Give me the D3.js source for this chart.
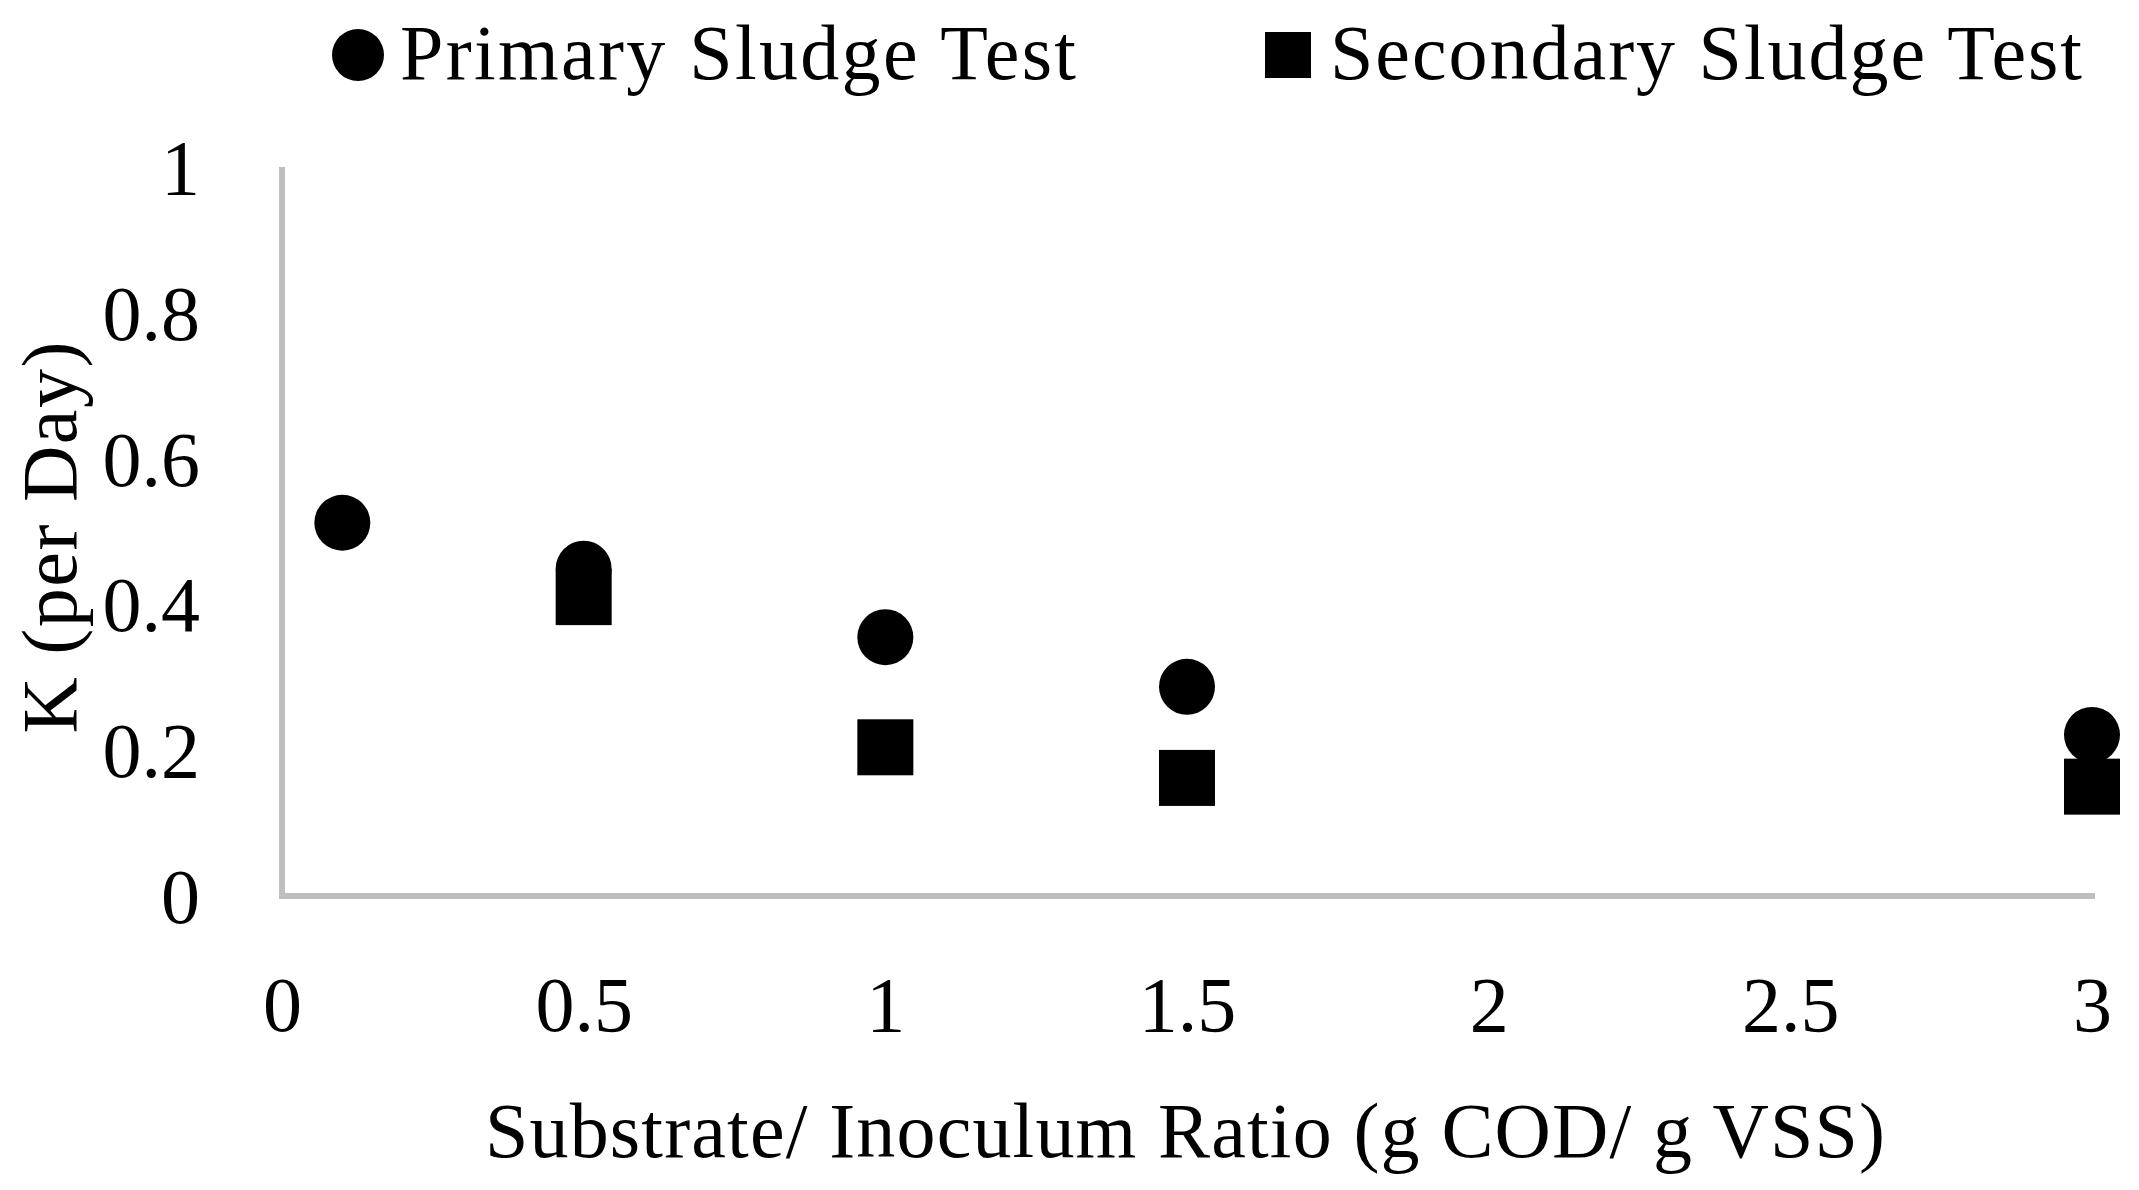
<!DOCTYPE html>
<html>
<head>
<meta charset="utf-8">
<script src="https://cdn.jsdelivr.net/npm/d3@7"></script>
<style>
  body { margin: 0; background: #fff; }
  text { font-family: "Book Antiqua", "Palatino Linotype", Palatino, "Liberation Serif", serif; fill: #000; }
</style>
</head>
<body>
<div id="chart"></div>
<script>
//series values
const primaryX = [0.1, 0.5, 1, 1.5, 3];
const primaryK = [0.512, 0.449, 0.355, 0.287, 0.221];
const secondaryX = [0.5, 1, 1.5, 3];
const secondaryK = [0.41, 0.204, 0.162, 0.15];

//tick labels
const xTicks = [0, 0.5, 1, 1.5, 2, 2.5, 3];
const yTicks = [0, 0.2, 0.4, 0.6, 0.8, 1];

const seriesNames = ['Primary Sludge Test', 'Secondary Sludge Test'];

const W = 2139, H = 1190;
const margin = { top: 167, right: 47, bottom: 294, left: 282 };
const fontSize = 78;

const svg = d3.select('#chart').append('svg')
    .attr('width', W)
    .attr('height', H);

const x = d3.scaleLinear().domain([0, 3]).range([margin.left, W - margin.right]);
const y = d3.scaleLinear().domain([0, 1]).range([H - margin.bottom, margin.top]);

//axis lines (light grey, no tick marks)
const axisColor = '#bfbfbf';
svg.append('line')
    .attr('x1', x(0)).attr('x2', x(0))
    .attr('y1', y(1)).attr('y2', y(0))
    .attr('stroke', axisColor).attr('stroke-width', 6);
svg.append('line')
    .attr('x1', x(0) - 3).attr('x2', x(3) + 3)
    .attr('y1', y(0)).attr('y2', y(0))
    .attr('stroke', axisColor).attr('stroke-width', 6);

//y tick labels
const yAxis = d3.axisLeft(y).tickValues(yTicks).tickSize(0).tickPadding(0)
    .tickFormat(d => d3.format('')(+d.toFixed(1)));
const yg = svg.append('g').attr('transform', `translate(${x(0) - 82},0)`).call(yAxis);
yg.select('.domain').remove();
yg.selectAll('text').attr('font-size', fontSize).attr('dy', '0.34em')
    .style('font-family', null);

//x tick labels
const xAxis = d3.axisBottom(x).tickValues(xTicks).tickSize(0).tickPadding(0)
    .tickFormat(d => String(d));
const xg = svg.append('g').attr('transform', `translate(0,${y(0) + 80})`).call(xAxis);
xg.select('.domain').remove();
xg.selectAll('text').attr('font-size', fontSize).attr('dy', '0.71em')
    .style('font-family', null);
svg.selectAll('.tick text').attr('fill', '#000');

//axis titles
svg.append('text')
    .attr('x', 1185)
    .attr('y', 1157)
    .attr('text-anchor', 'middle')
    .attr('font-size', fontSize)
    .attr('textLength', 1400)
    .text('Substrate/ Inoculum Ratio (g COD/ g VSS)');

svg.append('text')
    .attr('transform', `translate(76,${(y(0) + y(1)) / 2 + 6}) rotate(-90)`)
    .attr('text-anchor', 'middle')
    .attr('font-size', fontSize)
    .attr('textLength', 392)
    .text('K (per Day)');

//markers
const markSize = 56;
const primary = primaryX.map((v, i) => ({ x: v, k: primaryK[i] }));
const secondary = secondaryX.map((v, i) => ({ x: v, k: secondaryK[i] }));

svg.append('g').selectAll('circle')
    .data(primary)
  .enter().append('circle')
    .attr('cx', d => x(d.x))
    .attr('cy', d => y(d.k))
    .attr('r', markSize / 2)
    .attr('fill', '#000');

svg.append('g').selectAll('rect')
    .data(secondary)
  .enter().append('rect')
    .attr('x', d => x(d.x) - markSize / 2)
    .attr('y', d => y(d.k) - markSize / 2)
    .attr('width', markSize)
    .attr('height', markSize)
    .attr('fill', '#000');

//legend
const legendY = 55;
const lg = svg.append('g');
lg.append('circle').attr('cx', 358).attr('cy', legendY).attr('r', 26).attr('fill', '#000');
lg.append('text').attr('x', 400).attr('y', legendY + 24).attr('font-size', fontSize)
    .attr('textLength', 676).text(seriesNames[0]);
lg.append('rect').attr('x', 1265).attr('y', legendY - 23).attr('width', 46).attr('height', 46).attr('fill', '#000');
lg.append('text').attr('x', 1330).attr('y', legendY + 24).attr('font-size', fontSize)
    .attr('textLength', 752).text(seriesNames[1]);
</script>
</body>
</html>
